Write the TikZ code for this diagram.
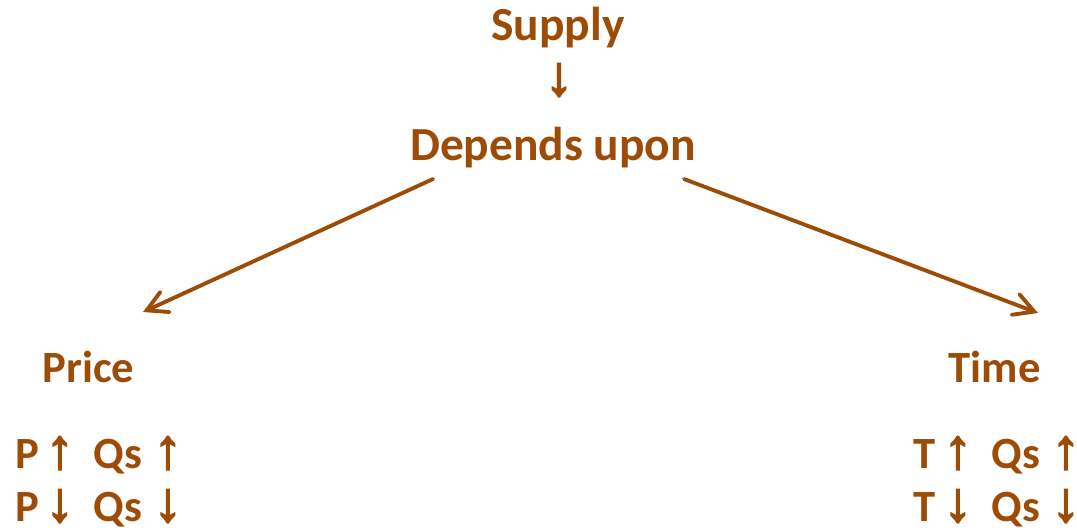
\documentclass[tikz,border=0pt]{standalone}
\usepackage{fontspec}
\setmainfont{Carlito}
\newfontfamily\arrowfont[FakeBold=3]{Liberation Sans}
\usetikzlibrary{arrows.meta}
\definecolor{rust}{RGB}{156,76,6}
\newcommand\arw[1]{{\arrowfont\fontsize{16pt}{16pt}\selectfont #1}}
% one relation line: variable, its arrow, then Qs and its arrow
\newcommand\relrow[2]{\makebox[0.30cm][l]{#1}\makebox[0.48cm][l]{\arw{#2}}\makebox[0.60cm][l]{Qs}\arw{#2}}
\tikzset{
  lbl/.style={inner sep=0pt, text=rust, font=\fontsize{13.5pt}{15pt}\selectfont\bfseries},
  sublbl/.style={lbl, font=\fontsize{12.7pt}{15pt}\selectfont\bfseries},
  conn/.style={draw=rust, line width=1.1pt, line cap=round,
    -{Straight Barb[length=2mm,width=2.2mm,line cap=round]}},
}
\begin{document}
\begin{tikzpicture}[x=0.01cm,y=-0.01cm]
  \useasboundingbox (0,0) rectangle (1077,529);
  % title chain
  \node[lbl, anchor=base] (supply) at (558,40) {Supply};
  \node[lbl, anchor=base] (down) at (559,95) {\arw{↓}};
  \node[lbl, anchor=base] (dep) at (553,160) {Depends upon};
  % branch heads
  \node[sublbl, anchor=base west] (price) at (42,382) {Price};
  \node[sublbl, anchor=base west] (time) at (948,382) {Time};
  % relations
  \node[sublbl, anchor=base west] (pup) at (15,468) {\relrow{P}{↑}};
  \node[sublbl, anchor=base west] (pdn) at (15,521) {\relrow{P}{↓}};
  \node[sublbl, anchor=base west] (tup) at (913,468) {\relrow{T}{↑}};
  \node[sublbl, anchor=base west] (tdn) at (913,521) {\relrow{T}{↓}};
  % connector ends
  \coordinate (ls) at (433,179);
  \coordinate (lt) at (143,312);
  \coordinate (rs) at (684,179);
  \coordinate (rt) at (1038,313);
  \draw[conn] (ls) -- (lt);
  \draw[conn] (rs) -- (rt);
\end{tikzpicture}
\end{document}
